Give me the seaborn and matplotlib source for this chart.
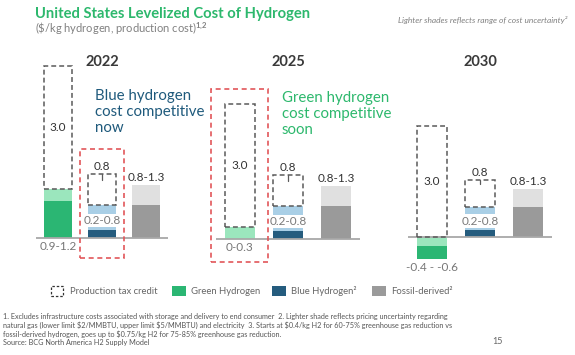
import numpy as np
import pandas as pd
import matplotlib
matplotlib.use("Agg")
import matplotlib.pyplot as plt
import seaborn as sns
from matplotlib.patches import Rectangle

# ---------------- data ----------------
years = ["2022", "2025", "2030"]
categories = ["Green", "Blue", "Fossil"]

# low-end (dark shade) and high-end (light shade) cost, $/kg H2
green_dark = [0.9, 0.0, -0.6]
green_light = [1.2, 0.3, -0.25]
blue_dark = [0.2, 0.2, 0.2]
blue_light = [0.8, 0.8, 0.8]
fossil_dark = [0.8, 0.8, 0.8]
fossil_light = [1.3, 1.3, 1.3]

# production tax credit
ptc_green = [3.0, 3.0, 3.0]
ptc_blue = [0.75, 0.75, 0.75]
ptc_blue_tick = [0.62, 0.62, 0.62]

green_labels = ["0.9-1.2", "0-0.3", "-0.4 - -0.6"]
blue_labels = ["0.2-0.8", "0.2-0.8", "0.2-0.8"]
fossil_labels = ["0.8-1.3", "0.8-1.3", "0.8-1.3"]
ptc_green_labels = ["3.0", "3.0", "3.0"]
ptc_blue_labels = ["0.8", "0.8", "0.8"]

# ---------------- style ----------------
sns.set_theme(style="white")
plt.rcParams["font.family"] = ["Lato", "DejaVu Sans"]
plt.rcParams["mathtext.fontset"] = "custom"
plt.rcParams["mathtext.rm"] = "Lato"
plt.rcParams["mathtext.bf"] = "Lato:bold"

DARK = {"Green": "#2bb673", "Blue": "#255c7e", "Fossil": "#9a9a9a"}
LIGHT = {"Green": "#9be6bd", "Blue": "#a9cfe6", "Fossil": "#e0e0e0"}
PTC_COLOR = "#5a5a5a"
RED = "#e2565a"
GREEN_TXT = "#2db86d"
BLUE_TXT = "#1f5a7c"

W, H = 575, 355
fig = plt.figure(figsize=(W / 100, H / 100), dpi=100)
fig.patch.set_facecolor("white")


def fx(px):
    return px / W


def fy(py):
    return 1 - py / H


# panel layout (pixels): left, right, baseline y, px per unit
panels = [(36, 168, 238, 41.0), (216, 360, 239, 41.0), (408, 552, 237, 37.0)]
TOP, BOT = 50, 272
dash = (0, (3.2, 2.0))

for i, (yr, (l, r, base, sc)) in enumerate(zip(years, panels)):
    ax = fig.add_axes([fx(l), fy(BOT), (r - l) / W, (BOT - TOP) / H])
    pairs = [(green_dark[i], green_light[i]), (blue_dark[i], blue_light[i]),
             (fossil_dark[i], fossil_light[i])]
    outer_v, outer_c, inner_v, inner_c = [], {}, [], {}
    for cat, (d, lt) in zip(categories, pairs):
        if abs(lt) >= abs(d):
            outer_v.append(lt); outer_c[cat] = LIGHT[cat]
            inner_v.append(d); inner_c[cat] = DARK[cat]
        else:
            outer_v.append(d); outer_c[cat] = DARK[cat]
            inner_v.append(lt); inner_c[cat] = LIGHT[cat]
    df_o = pd.DataFrame({"cat": categories, "val": outer_v})
    df_i = pd.DataFrame({"cat": categories, "val": inner_v})
    sns.barplot(data=df_o, x="cat", y="val", hue="cat", palette=outer_c,
                order=categories, hue_order=categories, width=0.63,
                saturation=1, legend=False, linewidth=0, ax=ax, errorbar=None)
    sns.barplot(data=df_i, x="cat", y="val", hue="cat", palette=inner_c,
                order=categories, hue_order=categories, width=0.63,
                saturation=1, legend=False, linewidth=0, ax=ax, errorbar=None)

    ax.set_xlim(-0.5, 2.5)
    ax.set_ylim(-(BOT - base) / sc, (base - TOP) / sc)
    ax.axis("off")
    ax.axhline(0, color="#a8a8a8", lw=1.3, zorder=3)

    bw = 0.63
    # PTC boxes
    g_base = max(green_light[i], 0)
    ax.add_patch(Rectangle((0 - bw / 2, g_base), bw, ptc_green[i], fill=False,
                           ec=PTC_COLOR, lw=1.1, ls=dash, zorder=4))
    ax.text(0, g_base + ptc_green[i] / 2, ptc_green_labels[i], ha="center",
            va="center", fontsize=8.5, color="#333333")
    b_base = blue_light[i]
    ax.add_patch(Rectangle((1 - bw / 2, b_base), bw, ptc_blue[i], fill=False,
                           ec=PTC_COLOR, lw=1.1, ls=dash, zorder=4))
    b_top = b_base + ptc_blue[i]
    ax.plot([1, 1], [b_top, b_base + ptc_blue_tick[i]], color=PTC_COLOR, lw=0.9)
    ax.annotate(ptc_blue_labels[i], (1, b_top), xytext=(0, 1.5),
                textcoords="offset points", ha="center", va="bottom",
                fontsize=8.5, color="#333333")
    # blue range label
    ax.text(1, blue_dark[i] + (blue_light[i] - blue_dark[i]) * 0.38, blue_labels[i],
            ha="center", va="center", fontsize=8.5, color="#7a7a7a", zorder=5,
            bbox=dict(boxstyle="square,pad=0.12", fc="white", ec="none"))
    # fossil label
    ax.annotate(fossil_labels[i], (2, fossil_light[i]), xytext=(0, 1.5),
                textcoords="offset points", ha="center", va="bottom",
                fontsize=8.5, color="#333333")
    # green label below
    g_low = min(0, green_dark[i], green_light[i])
    ax.annotate(green_labels[i], (0, g_low), xytext=(0, -2),
                textcoords="offset points", ha="center", va="top",
                fontsize=8.5, color="#777777", annotation_clip=False)

    fig.text(fx((l + r) / 2), fy(62), yr, ha="center", va="center",
             fontsize=10.5, fontweight="bold", color="#3a3a3a")

# red highlight boxes
for (x0, y0, x1, y1) in [(80, 149, 124, 258), (211, 89, 268, 262)]:
    fig.add_artist(Rectangle((fx(x0), fy(y1)), (x1 - x0) / W, (y1 - y0) / H,
                             transform=fig.transFigure, fill=False, ec=RED,
                             lw=1.2, ls=(0, (3, 2.2))))

# annotations
fig.text(fx(95), fy(89), "Blue hydrogen\ncost competitive\nnow", ha="left",
         va="top", fontsize=10.8, color=BLUE_TXT, linespacing=1.2)
fig.text(fx(282), fy(91), "Green hydrogen\ncost competitive\nsoon", ha="left",
         va="top", fontsize=10.8, color=GREEN_TXT, linespacing=1.2)

# title block
fig.text(fx(35), fy(14), "United States Levelized Cost of Hydrogen", ha="left",
         va="center", fontsize=10.6, fontweight="bold", color=GREEN_TXT)
fig.text(fx(35), fy(29), r"(\$/kg hydrogen, production cost)$^{\mathbf{1{,}2}}$",
         ha="left", va="center", fontsize=8, color="#808080")
fig.text(fx(567), fy(20), "Lighter shades reflects range of cost uncertainty²",
         ha="right", va="center", fontsize=6, style="italic", color="#808080")

# legend
leg_y = 291
fig.add_artist(Rectangle((fx(51), fy(leg_y + 5)), 12 / W, 10 / H,
                         transform=fig.transFigure, fill=False, ec="#333333",
                         lw=0.9, ls=(0, (2, 1.5))))
fig.text(fx(70), fy(leg_y), "Production tax credit", ha="left", va="center",
         fontsize=6.8, color="#666666")
for xs, cat, lab in [(172, "Green", "Green Hydrogen"), (272, "Blue", "Blue Hydrogen²"),
                     (372, "Fossil", "Fossil-derived²")]:
    fig.add_artist(Rectangle((fx(xs), fy(leg_y + 5)), 14 / W, 10 / H,
                             transform=fig.transFigure, fc=DARK[cat], ec="none"))
    fig.text(fx(xs + 19), fy(leg_y), lab, ha="left", va="center",
             fontsize=6.8, color="#666666")

# footnotes
notes = [
    "1. Excludes infrastructure costs associated with storage and delivery to end consumer  2. Lighter shade reflects pricing uncertainty regarding",
    "natural gas (lower limit \\$2/MMBTU, upper limit \\$5/MMBTU) and electricity  3. Starts at \\$0.4/kg H2 for 60-75% greenhouse gas reduction vs",
    "fossil-derived hydrogen, goes up to \\$0.75/kg H2 for 75-85% greenhouse gas reduction.",
    "Source: BCG North America H2 Supply Model",
]
for k, line in enumerate(notes):
    fig.text(fx(3), fy(316 + 9 * k), line, ha="left", va="center",
             fontsize=5.2, color="#555555")
fig.text(fx(497), fy(342), "15", ha="center", va="center", fontsize=6.5,
         color="#666666")

fig.savefig("out.png", dpi=100, facecolor="white")
